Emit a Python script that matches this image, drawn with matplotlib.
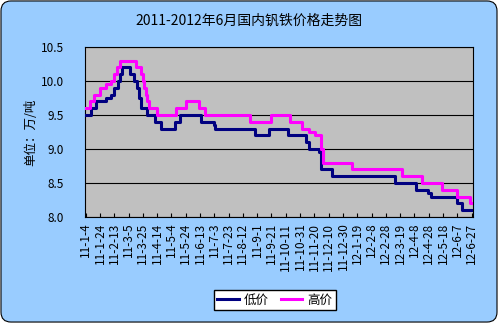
from datetime import datetime
import matplotlib
matplotlib.use('Agg')
import matplotlib.pyplot as plt
from matplotlib.patches import FancyBboxPatch

plt.rcParams['font.family'] = ['Noto Sans CJK SC', 'DejaVu Sans']

# dados (datas de mudança de preço, valores em 万/吨)
low_dates = ['2011-01-04', '2011-01-11', '2011-01-19', '2011-02-01', '2011-02-08',
             '2011-02-13', '2011-02-18', '2011-02-21', '2011-02-24', '2011-03-07',
             '2011-03-13', '2011-03-17', '2011-03-20', '2011-03-23', '2011-03-31',
             '2011-04-11', '2011-04-19', '2011-05-09', '2011-05-16', '2011-06-14',
             '2011-07-02', '2011-07-04', '2011-08-29', '2011-09-18', '2011-10-14',
             '2011-11-08', '2011-11-13', '2011-11-26', '2011-11-29', '2011-12-15',
             '2012-03-12', '2012-04-10', '2012-04-27', '2012-05-01', '2012-06-07',
             '2012-06-13', '2012-06-29']
low_values = [9.5, 9.6, 9.7, 9.75, 9.8,
              9.9, 10.0, 10.1, 10.2, 10.1,
              10.0, 9.9, 9.75, 9.6, 9.5,
              9.4, 9.3, 9.4, 9.5, 9.4,
              9.35, 9.3, 9.2, 9.3, 9.2,
              9.1, 9.0, 8.95, 8.7, 8.6,
              8.5, 8.4, 8.35, 8.3, 8.2,
              8.1, 8.1]

high_dates = ['2011-01-04', '2011-01-10', '2011-01-16', '2011-01-24', '2011-02-01',
              '2011-02-08', '2011-02-13', '2011-02-17', '2011-02-21', '2011-03-15',
              '2011-03-23', '2011-03-25', '2011-03-27', '2011-03-29', '2011-03-31',
              '2011-04-02', '2011-04-14', '2011-05-11', '2011-05-24', '2011-06-11',
              '2011-06-20', '2011-08-22', '2011-09-20', '2011-10-17', '2011-11-03',
              '2011-11-12', '2011-11-21', '2011-11-29', '2011-12-02', '2012-01-11',
              '2012-03-21', '2012-04-19', '2012-05-17', '2012-06-07', '2012-06-25',
              '2012-06-29']
high_values = [9.6, 9.7, 9.8, 9.9, 9.95,
               10.0, 10.1, 10.2, 10.3, 10.2,
               10.1, 10.0, 9.9, 9.8, 9.7,
               9.6, 9.5, 9.6, 9.7, 9.6,
               9.5, 9.4, 9.5, 9.4, 9.3,
               9.25, 9.2, 9.0, 8.8, 8.7,
               8.6, 8.5, 8.4, 8.3, 8.2,
               8.2]

tick_labels = ['11-1-4', '11-1-24', '11-2-13', '11-3-5', '11-3-25', '11-4-14',
               '11-5-4', '11-5-24', '11-6-13', '11-7-3', '11-7-23', '11-8-12',
               '11-9-1', '11-9-21', '11-10-11', '11-10-31', '11-11-20', '11-12-10',
               '11-12-30', '12-1-19', '12-2-8', '12-2-28', '12-3-19', '12-4-8',
               '12-4-28', '12-5-18', '12-6-7', '12-6-27']
y_ticks = [8.0, 8.5, 9.0, 9.5, 10.0, 10.5]

base = datetime(2011, 1, 4)

def to_day(s, fmt='%Y-%m-%d'):
    return (datetime.strptime(s, fmt) - base).days

low_x = [to_day(d) for d in low_dates]
high_x = [to_day(d) for d in high_dates]
tick_x = [to_day('20' + t, '%Y-%m-%d') for t in tick_labels]

fig = plt.figure(figsize=(4.98, 3.23), dpi=100, facecolor='white')

# fundo azul com cantos arredondados
bg = FancyBboxPatch((0.002, 0.003), 0.996, 0.994, boxstyle='round,pad=0,rounding_size=0.02',
                    mutation_aspect=498 / 323, transform=fig.transFigure,
                    facecolor='#99CCFF', edgecolor='black', linewidth=0.8, zorder=-1)
fig.patches.append(bg)

ax = fig.add_axes([85 / 498, 1 - 217 / 323, 388 / 498, 170 / 323])
ax.set_facecolor('#C0C0C0')

ax.step(low_x, low_values, where='post', color='#000080', linewidth=2.2, label='低价', zorder=3)
ax.step(high_x, high_values, where='post', color='#FF00FF', linewidth=2.2, label='高价', zorder=3)

ax.set_xlim(-1, 542)
ax.set_ylim(8.0, 10.5)
ax.set_yticks(y_ticks)
ax.set_yticklabels([f'{v:.1f}' for v in y_ticks], fontsize=8.5)
ax.tick_params(axis='y', length=0, pad=15)
ax.set_xticks(tick_x)
ax.set_xticklabels(tick_labels, rotation=90, fontsize=8.5)
ax.tick_params(axis='x', direction='in', length=3, width=0.8, pad=4)

ax.grid(axis='y', color='black', linewidth=0.8)
ax.set_axisbelow(True)
for sp in ax.spines.values():
    sp.set_linewidth(0.8)
    sp.set_color('black')

ax.set_ylabel('单位：万/吨', fontsize=9, labelpad=3)
fig.text(0.5, 0.935, '2011-2012年6月国内钒铁价格走势图', ha='center', va='center', fontsize=10)

fig.legend(loc='center', bbox_to_anchor=(0.552, 0.071), ncol=2, fontsize=9,
           fancybox=False, edgecolor='black', framealpha=1, handlelength=1.7,
           columnspacing=1.0, borderpad=0.3, handletextpad=0.4)

fig.savefig('out.png', dpi=100)
